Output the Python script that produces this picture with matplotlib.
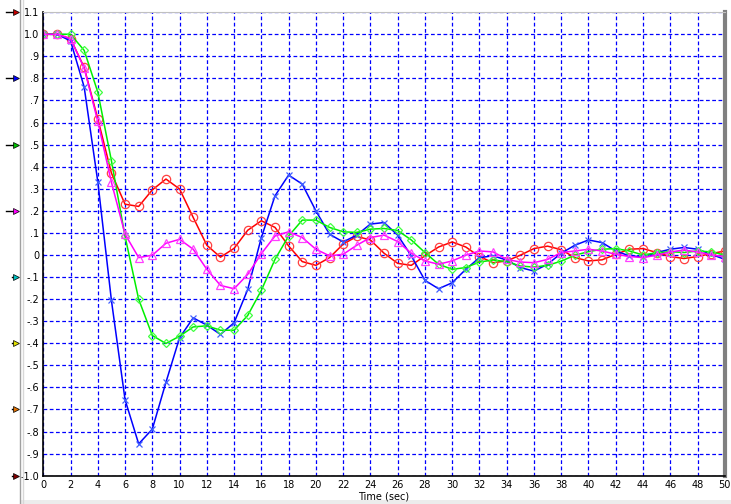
import numpy as np
import matplotlib
matplotlib.use('Agg')
import matplotlib.pyplot as plt
import matplotlib.transforms as mtransforms

# Dados (um ponto por segundo, 0..50)
tempo = list(range(51))

vermelho = [1.0, 1.0, 0.98, 0.85, 0.617, 0.371, 0.23, 0.22, 0.295, 0.344,
            0.299, 0.17, 0.044, -0.01, 0.03, 0.112, 0.155, 0.125, 0.041, -0.03,
            -0.047, -0.012, 0.049, 0.084, 0.068, 0.008, -0.038, -0.047, -0.004, 0.036,
            0.059, 0.036, -0.007, -0.035, -0.027, -0.001, 0.029, 0.04, 0.024, -0.012,
            -0.027, -0.022, 0.003, 0.026, 0.029, 0.011, -0.007, -0.016, -0.007, 0.006,
            0.018]

azul = [1.0, 1.0, 0.97, 0.761, 0.332, -0.206, -0.656, -0.856, -0.789, -0.577,
        -0.375, -0.285, -0.318, -0.36, -0.307, -0.156, 0.079, 0.268, 0.362, 0.321,
        0.2, 0.094, 0.059, 0.09, 0.14, 0.147, 0.09, -0.004, -0.115, -0.153,
        -0.126, -0.065, -0.012, -0.004, -0.023, -0.057, -0.073, -0.042, 0.008, 0.044,
        0.068, 0.056, 0.018, -0.004, -0.008, 0.011, 0.026, 0.034, 0.026, 0.003,
        -0.02]

verde = [1.0, 1.0, 1.0, 0.927, 0.738, 0.427, 0.084, -0.201, -0.365, -0.401,
         -0.368, -0.326, -0.321, -0.341, -0.341, -0.274, -0.16, -0.02, 0.086, 0.158,
         0.158, 0.125, 0.105, 0.102, 0.117, 0.12, 0.111, 0.068, 0.011, -0.042,
         -0.065, -0.057, -0.032, -0.023, -0.03, -0.05, -0.055, -0.047, -0.028, -0.001,
         0.015, 0.026, 0.029, 0.018, 0.0, 0.01, 0.015, 0.011, 0.018, 0.014,
         0.0]

magenta = [1.0, 1.0, 0.98, 0.847, 0.605, 0.329, 0.094, -0.012, -0.001, 0.053,
           0.071, 0.026, -0.065, -0.138, -0.153, -0.088, 0.006, 0.086, 0.105, 0.079,
           0.026, -0.004, 0.003, 0.044, 0.079, 0.09, 0.061, 0.008, -0.027, -0.042,
           -0.027, -0.001, 0.018, 0.014, -0.02, -0.032, -0.035, -0.02, 0.011, 0.018,
           0.026, 0.018, 0.003, -0.007, -0.012, -0.001, 0.014, 0.022, 0.014, 0.0,
           -0.007]

xticks = list(range(0, 51, 2))
yticks = [1.1, 1.0, 0.9, 0.8, 0.7, 0.6, 0.5, 0.4, 0.3, 0.2, 0.1, 0.0,
          -0.1, -0.2, -0.3, -0.4, -0.5, -0.6, -0.7, -0.8, -0.9, -1.0]
ylabels = ['1.1', '1.0', '.9', '.8', '.7', '.6', '.5', '.4', '.3', '.2', '.1', '0',
           '-.1', '-.2', '-.3', '-.4', '-.5', '-.6', '-.7', '-.8', '-.9', '-1.0']

# Setas do lado esquerdo (posição y e cor da ponta)
setas_y = [1.1, 0.8, 0.5, 0.2, -0.1, -0.4, -0.7, -1.0]
setas_cor = ['#c00000', '#0000ff', '#00c000', '#ff00ff', '#00c0c0', '#e0e000', '#e07000', '#800000']

fig = plt.figure(figsize=(7.31, 5.04), dpi=100)
fig.patch.set_facecolor('white')
ax = fig.add_axes([0.0592, 0.0562, 0.9323, 0.9196])

ax.set_xlim(0, 50)
ax.set_ylim(-1.0, 1.1)

ax.set_xticks(xticks)
ax.set_xticklabels([str(v) for v in xticks])
ax.set_yticks(yticks)
ax.set_yticklabels(ylabels)
ax.tick_params(length=0, labelsize=7, pad=3)
ax.set_xlabel('Time (sec)', fontsize=7, labelpad=1)

ax.grid(True, color='#0000ff', linestyle=(0, (3, 2)), linewidth=0.9)
ax.set_axisbelow(True)

for s in ['left', 'bottom']:
    ax.spines[s].set_color('black')
    ax.spines[s].set_linewidth(1.2)
ax.spines['top'].set_color('#c0c0c0')
ax.spines['top'].set_linewidth(0.8)
ax.spines['right'].set_color('#808080')
ax.spines['right'].set_linewidth(3)

ax.plot(tempo, vermelho, '-', color='#ff0000', lw=1.1, marker='o', ms=6, mfc='none',
        mec='#ff4040', mew=0.9)
ax.plot(tempo, azul, '-', color='#0000ff', lw=1.1, marker='x', ms=5, mec='#4060ff', mew=0.9)
ax.plot(tempo, verde, '-', color='#00ee00', lw=1.1, marker='D', ms=4.5, mfc='none',
        mec='#40ff40', mew=0.9)
ax.plot(tempo, magenta, '-', color='#ff00ff', lw=1.1, marker='^', ms=5.5, mfc='none',
        mec='#ff40ff', mew=0.9)

# Setas na margem esquerda
trans = mtransforms.blended_transform_factory(fig.transFigure, ax.transData)
for i, (yv, cor) in enumerate(zip(setas_y, setas_cor)):
    x0 = 0.008 if i < 4 else 0.016
    ax.plot([x0, 0.022], [yv, yv], '-', color='black', lw=1.0, transform=trans, clip_on=False)
    ax.plot([0.022], [yv], marker='>', ms=5, color=cor, mec='black', mew=0.5,
            transform=trans, clip_on=False)

# Moldura da janela
fig.add_artist(plt.Line2D([0.028, 0.028], [0.0, 1.0], color='#a0a0a0', lw=1.0))
fig.add_artist(plt.Line2D([0.031, 0.031], [0.0, 1.0], color='#d8d8d8', lw=1.0))
fig.add_artist(plt.Rectangle((0.028, 0.0), 0.972, 0.008, color='#ececec', lw=0, zorder=-1))

fig.savefig('out.png', dpi=100)
